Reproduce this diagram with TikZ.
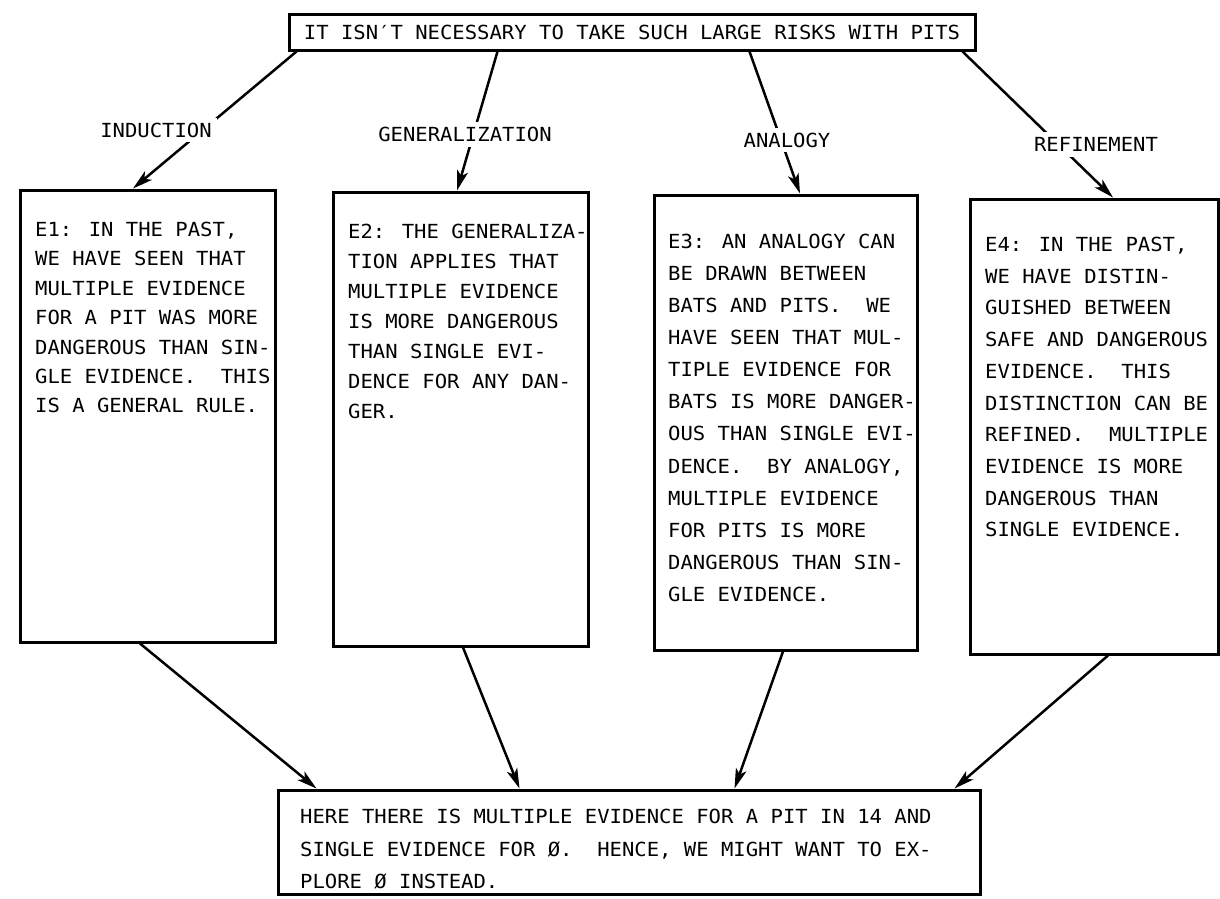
\documentclass[tikz,border=0pt]{standalone}
\usepackage{fontspec}
\newfontfamily\typer{DejaVu Sans Mono}[FakeStretch=1.06]
\usetikzlibrary{arrows.meta}

\begin{document}
\begin{tikzpicture}[x=1pt,y=-1pt,
  box/.style={draw, line width=3pt, rectangle, inner sep=0pt},
  % multi-line texts are placed by the baseline of their last line
  txt/.style={anchor=base west, align=left, inner sep=0pt,
              font=\typer\fontsize{19.4}{#1}\selectfont},
  lbl/.style={fill=white, inner sep=5pt, font=\typer\fontsize{19.4}{21}\selectfont},
  link/.style={line width=2.5pt, -{Stealth[length=20pt,width=11pt,inset=5pt]}},
]
\useasboundingbox (0,0) rectangle (1220,898);

% question at the top
\node[box, minimum width=686pt, minimum height=36pt,
      font=\typer\fontsize{19.4}{21}\selectfont] (top) at (632,32)
  {IT ISN′T NECESSARY TO TAKE SUCH LARGE RISKS WITH PITS};

% the four explanation boxes
\node[box, minimum width=255pt, minimum height=452pt] (e1) at (147.5,416) {};
\node[box, minimum width=255pt, minimum height=454pt] (e2) at (460.5,419) {};
\node[box, minimum width=263pt, minimum height=455pt] (e3) at (785.5,422.5) {};
\node[box, minimum width=248pt, minimum height=455pt] (e4) at (1094,426.5) {};

% conclusion at the bottom
\node[box, minimum width=702pt, minimum height=104pt] (bot) at (629,842) {};

% texts of the boxes
\node[txt=29.4] (t1) at (35,412.9) {E1: IN THE PAST,\\
WE HAVE SEEN THAT\\
MULTIPLE EVIDENCE\\
FOR A PIT WAS MORE\\
DANGEROUS THAN SIN-\\
GLE EVIDENCE.\ \ THIS\\
IS A GENERAL RULE.};

\node[txt=30] (t2) at (348,418.5) {E2: THE GENERALIZA-\\
TION APPLIES THAT\\
MULTIPLE EVIDENCE\\
IS MORE DANGEROUS\\
THAN SINGLE EVI-\\
DENCE FOR ANY DAN-\\
GER.};

\node[txt=32.1] (t3) at (668,601.4) {E3: AN ANALOGY CAN\\
BE DRAWN BETWEEN\\
BATS AND PITS.\ \ WE\\
HAVE SEEN THAT MUL-\\
TIPLE EVIDENCE FOR\\
BATS IS MORE DANGER-\\
OUS THAN SINGLE EVI-\\
DENCE.\ \ BY ANALOGY,\\
MULTIPLE EVIDENCE\\
FOR PITS IS MORE\\
DANGEROUS THAN SIN-\\
GLE EVIDENCE.};

\node[txt=31.7] (t4) at (985,536.8) {E4: IN THE PAST,\\
WE HAVE DISTIN-\\
GUISHED BETWEEN\\
SAFE AND DANGEROUS\\
EVIDENCE.\ \ THIS\\
DISTINCTION CAN BE\\
REFINED.\ \ MULTIPLE\\
EVIDENCE IS MORE\\
DANGEROUS THAN\\
SINGLE EVIDENCE.};

\node[txt=32.5] (tb) at (300,888.5) {HERE THERE IS MULTIPLE EVIDENCE FOR A PIT IN 14 AND\\
SINGLE EVIDENCE FOR Ø.\ \ HENCE, WE MIGHT WANT TO EX-\\
PLORE Ø INSTEAD.};

% connectors from the question to the explanations
\draw[link] ([xshift=9pt]top.south west) -- ([xshift=-14.5pt]e1.north);
\draw[link] ([xshift=210pt]top.south west) -- ([xshift=-3.5pt]e2.north);
\draw[link] ([xshift=462pt]top.south west) -- ([xshift=14.5pt]e3.north);
\draw[link] ([xshift=-14pt]top.south east) -- ([xshift=19pt]e4.north);

% kinds of reasoning, set over the connectors
\node[lbl] (lind) at (156,130) {INDUCTION};
\node[lbl] (lgen) at (465,134.5) {GENERALIZATION};
\node[lbl] (lana) at (787,140) {ANALOGY};
\node[lbl] (lref) at (1096,144.5) {REFINEMENT};

% connectors from the explanations to the conclusion
\draw[link] ([xshift=-7.5pt]e1.south) -- ([xshift=40pt]bot.north west);
\draw[link] ([xshift=2.5pt]e2.south) -- ([xshift=243pt]bot.north west);
\draw[link] ([xshift=-2.5pt]e3.south) -- ([xshift=458pt]bot.north west);
\draw[link] ([xshift=14pt]e4.south) -- ([xshift=-27pt]bot.north east);
\end{tikzpicture}
\end{document}
